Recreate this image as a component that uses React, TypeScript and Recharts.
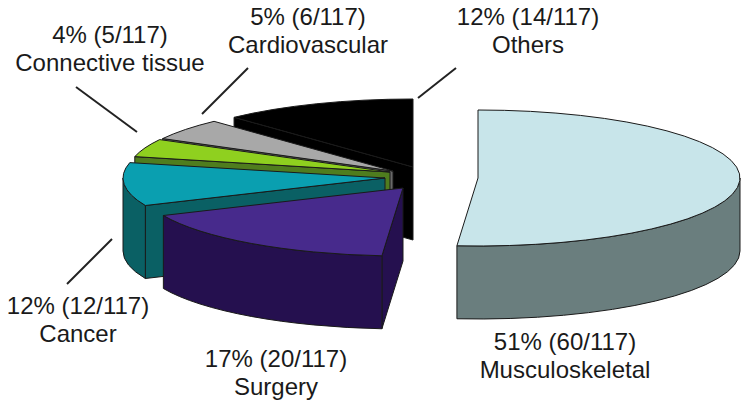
import React from 'react'
import { PieChart, Pie } from 'recharts'

// back-to-front so later slices paint over earlier ones
const categories = ['Others', 'Cardiovascular', 'Connective tissue', 'Cancer', 'Surgery', 'Musculoskeletal']
const counts = [14, 6, 5, 12, 20, 60]
const percents = [12, 5, 4, 12, 17, 51]
const total = 117

const topColors = ['#000000', '#a8a8a8', '#8fd01f', '#0a9fb0', '#472a8c', '#c8e5ea']
const wallColors = ['#000000', '#686868', '#4f7d1e', '#0a6064', '#25104f', '#6a7e7e']

// pull-out of every slice from the pie centre
const explodeX = [-65, -85, -88, -93, -75, 0]
const explodeY = [-11, -7, -6, 0, 10, 0]

// label anchor (centre x, first line baseline) and leader line
const labelX = [528, 308, 110, 78, 276, 565]
const labelY = [25, 25, 43, 314, 367, 350]
const leaders: (number[] | null)[] = [
  [418, 98, 456, 68],
  [202, 114, 248, 68],
  [137, 132, 76, 87],
  [112, 239, 67, 284],
  null,
  null
]

const squash = 68 / 262
const depth = 73
const strokeColor = '#1a1a1a'

const chartData = categories.map((name, i) => ({ name, value: counts[i] }))

function Slice3D(props: any) {
  const i = categories.indexOf(props.name)
  const cx = props.cx + explodeX[i]
  const cy = props.cy + explodeY[i]
  const rx = props.outerRadius
  const ry = rx * squash
  const a0 = props.startAngle
  const a1 = props.endAngle

  const pt = (a: number, dy = 0) => {
    const r = (a * Math.PI) / 180
    return `${cx + rx * Math.cos(r)} ${cy - ry * Math.sin(r) + dy}`
  }

  // only the front half of the rim is visible
  const w0 = Math.max(a0, 180)
  const w1 = Math.min(a1, 360)
  const rim =
    w1 > w0
      ? `M${pt(w0)} A${rx} ${ry} 0 0 0 ${pt(w1)} L${pt(w1, depth)} A${rx} ${ry} 0 0 1 ${pt(w0, depth)} Z`
      : null
  const cut = `M${cx} ${cy} L${pt(a1)} L${pt(a1, depth)} L${cx} ${cy + depth} Z`
  const large = a1 - a0 > 180 ? 1 : 0
  const top = `M${cx} ${cy} L${pt(a0)} A${rx} ${ry} 0 ${large} 0 ${pt(a1)} Z`

  return (
    <g stroke={strokeColor} strokeWidth={1} strokeLinejoin="round">
      {Math.sin(((a1 + 90) * Math.PI) / 180) < -0.001 && <path d={cut} fill={wallColors[i]} />}
      {rim && <path d={rim} fill={wallColors[i]} />}
      <path d={top} fill={topColors[i]} />
    </g>
  )
}

function SliceLabel(props: any) {
  const i = categories.indexOf(props.name)
  const line = leaders[i]
  return (
    <g>
      {line && <line x1={line[0]} y1={line[1]} x2={line[2]} y2={line[3]} stroke="#222" strokeWidth={2} />}
      <text
        x={labelX[i]}
        y={labelY[i]}
        textAnchor="middle"
        fontFamily="Liberation Sans"
        fontSize={24}
        fill="#1a1a1a"
      >
        {`${percents[i]}% (${counts[i]}/${total})`}
      </text>
      <text
        x={labelX[i]}
        y={labelY[i] + 28}
        textAnchor="middle"
        fontFamily="Liberation Sans"
        fontSize={24}
        fill="#1a1a1a"
      >
        {categories[i]}
      </text>
    </g>
  )
}

export default function App() {
  return (
    <div style={{ position: 'absolute', left: 0, top: 0, width: 750, height: 410, background: '#fff' }}>
      <PieChart width={750} height={410} margin={{ top: 0, right: 0, bottom: 0, left: 0 }}>
        <Pie
          data={chartData}
          dataKey="value"
          nameKey="name"
          cx={478}
          cy={178}
          innerRadius={0}
          outerRadius={262}
          startAngle={90}
          endAngle={450}
          stroke="none"
          isAnimationActive={false}
          shape={Slice3D}
          label={SliceLabel}
          labelLine={false}
        />
      </PieChart>
    </div>
  )
}
